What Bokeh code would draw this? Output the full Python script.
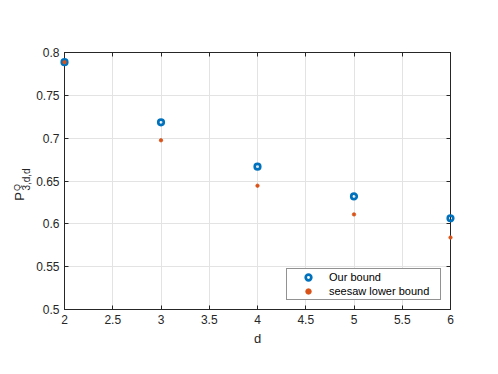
import math
from bokeh.plotting import figure
from bokeh.models import Range1d, LinearAxis, FixedTicker, Legend, LegendItem
from bokeh.core.properties import value
from bokeh.embed import file_html
from bokeh.resources import INLINE

# ---- data ----
d = [2, 3, 4, 5, 6]
our_bound = [0.7887, 0.7185, 0.6667, 0.6320, 0.6065]
seesaw_lower = [0.7887, 0.6975, 0.6445, 0.6110, 0.5840]
x_ticks = [2, 2.5, 3, 3.5, 4, 4.5, 5, 5.5, 6]
x_tick_labels = ["2", "2.5", "3", "3.5", "4", "4.5", "5", "5.5", "6"]
y_ticks = [0.5, 0.55, 0.6, 0.65, 0.7, 0.75, 0.8]
y_tick_labels = ["0.5", "0.55", "0.6", "0.65", "0.7", "0.75", "0.8"]

FONT = "Liberation Sans"
AX = "#262626"
BLUE = "#0072BD"
ORANGE = "#D95319"

p = figure(width=490, height=366, output_backend="svg", toolbar_location=None,
           x_range=Range1d(2, 6), y_range=Range1d(0.5, 0.8),
           min_border_left=64, min_border_right=40, min_border_top=52, min_border_bottom=57)
p.outline_line_color = AX
p.outline_line_width = 1
p.background_fill_color = "white"
p.border_fill_color = "white"

def style_axis(ax, ticks, labels, show_labels=True):
    ax.ticker = FixedTicker(ticks=ticks)
    ax.major_label_overrides = {t: l for t, l in zip(ticks, labels)}
    ax.major_tick_in = 4
    ax.major_tick_out = 0
    ax.minor_tick_in = 0
    ax.minor_tick_out = 0
    ax.axis_line_color = AX
    ax.major_tick_line_color = AX
    ax.major_label_text_font = FONT
    ax.major_label_text_font_size = "12px"
    ax.major_label_text_color = AX
    ax.major_label_standoff = 5
    if not show_labels:
        ax.major_label_text_alpha = 0
        ax.major_label_text_font_size = "1px"
        ax.major_label_standoff = 0

style_axis(p.xaxis[0], x_ticks, x_tick_labels)
style_axis(p.yaxis[0], y_ticks, y_tick_labels)
p.xaxis[0].axis_label = "d"
p.xaxis[0].axis_label_text_font = FONT
p.xaxis[0].axis_label_text_font_size = "13px"
p.xaxis[0].axis_label_text_font_style = "normal"
p.xaxis[0].axis_label_text_color = AX
p.xaxis[0].axis_label_standoff = 4

top = LinearAxis()
style_axis(top, x_ticks, x_tick_labels, show_labels=False)
p.add_layout(top, "above")
right = LinearAxis()
style_axis(right, y_ticks, y_tick_labels, show_labels=False)
p.add_layout(right, "right")

p.xgrid.ticker = FixedTicker(ticks=x_ticks)
p.ygrid.ticker = FixedTicker(ticks=y_ticks)
p.grid.grid_line_color = "#e3e3e3"
p.grid.grid_line_width = 1

r1 = p.scatter(d, our_bound, marker="circle", size=5.5, fill_color="white", fill_alpha=0,
               line_color=BLUE, line_width=2.7)
r2 = p.scatter(d, seesaw_lower, marker="circle", size=3.4, fill_color=ORANGE,
               line_color=ORANGE, line_width=0.8)
r1.level = "overlay"
r2.level = "overlay"

legend = Legend(items=[LegendItem(label="Our bound", renderers=[r1]),
                       LegendItem(label="seesaw lower bound", renderers=[r2])],
                location="bottom_right")
legend.margin = 9
legend.padding = 1
legend.spacing = 0
legend.glyph_width = 40
legend.glyph_height = 14
legend.label_height = 14
legend.label_width = 110
legend.label_standoff = 1
legend.label_text_font = FONT
legend.label_text_font_size = "11px"
legend.label_text_color = "#000000"
legend.border_line_color = AX
legend.border_line_width = 1
legend.background_fill_alpha = 1
p.add_layout(legend, "center")

# y-axis label P^Q_{3,d,d}: anchored at the frame's lower-left corner, offset in pixels
x0 = x_ticks[0]
y0 = y_ticks[0]
for txt, dx, dy, fs in [("P", -45, -113, "13px"), ("Q", -48, -122, "9px"),
                        ("3,d,d", -38, -130, "10px")]:
    t = p.text(x=[x0], y=[y0], text=[txt], x_offset=dx, y_offset=dy, angle=math.pi / 2,
               text_font=value(FONT), text_font_size=value(fs), text_color=AX,
               text_align="center", text_baseline="alphabetic")
    t.level = "overlay"

open("out.html", "w").write(file_html(p, INLINE))
